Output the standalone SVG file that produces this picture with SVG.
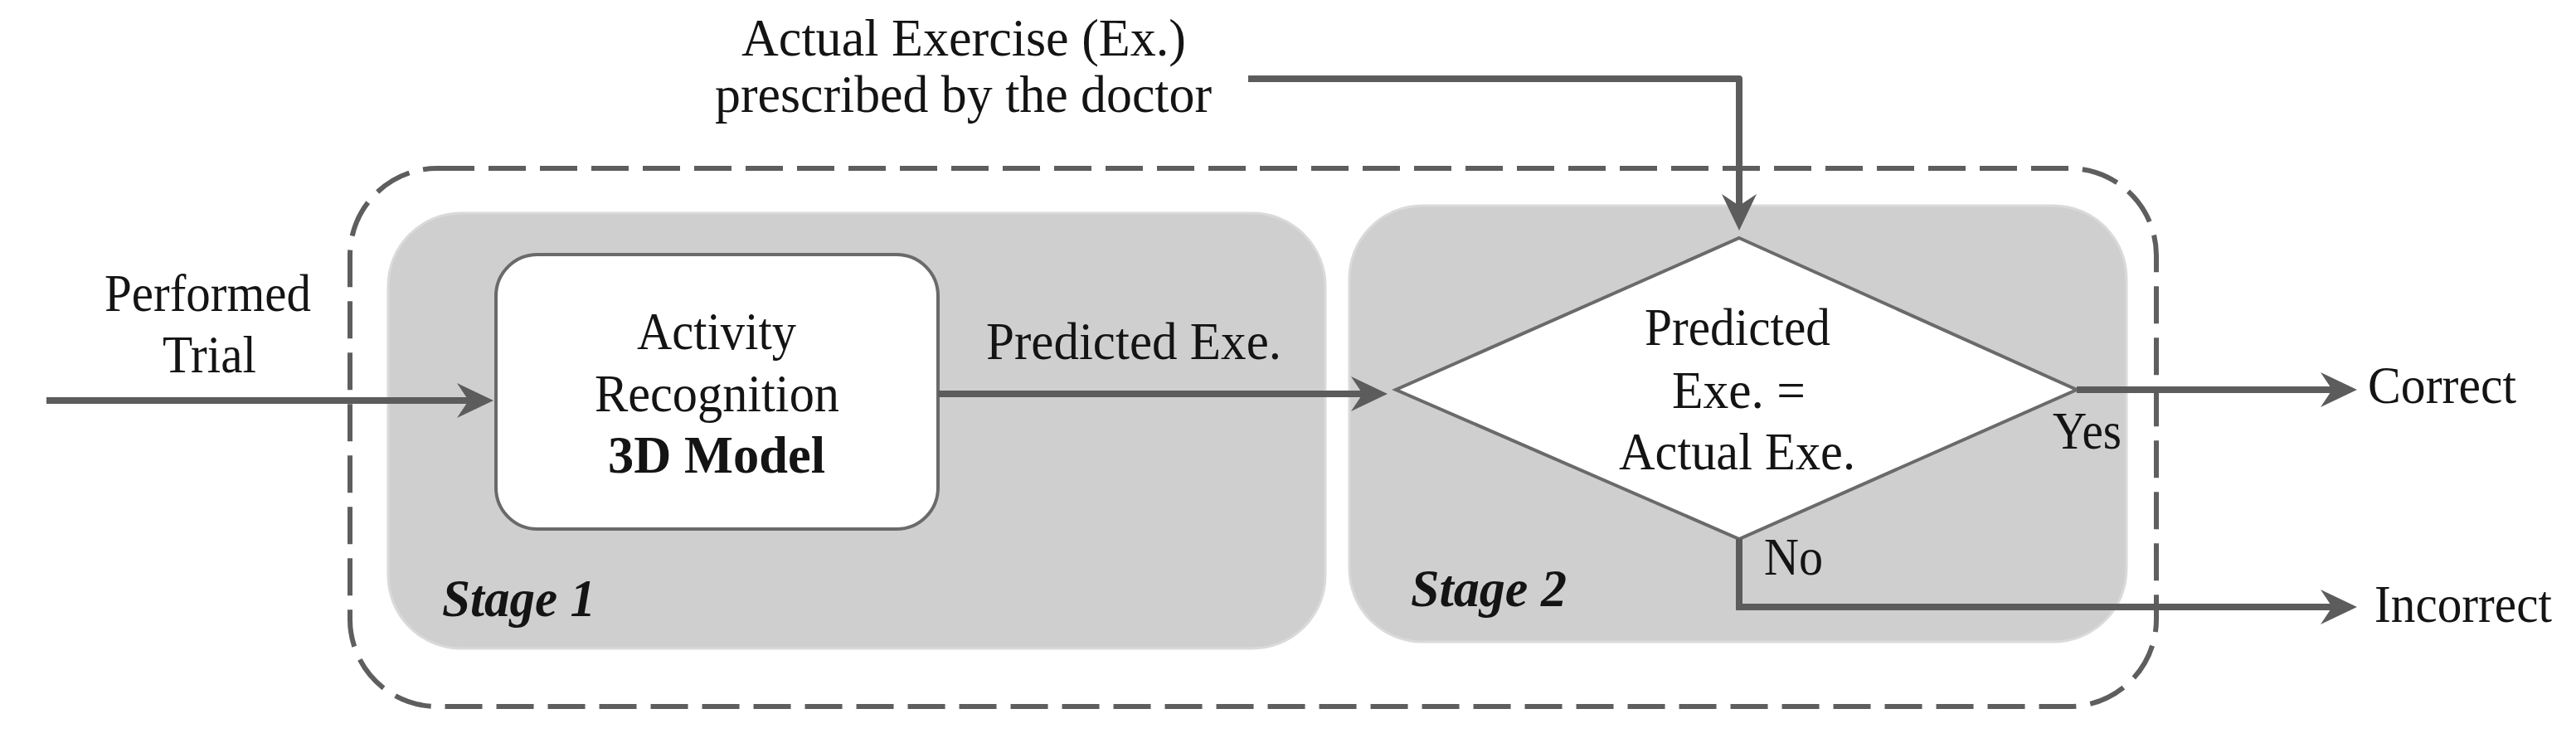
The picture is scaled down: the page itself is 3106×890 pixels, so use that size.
<svg xmlns="http://www.w3.org/2000/svg" width="3106" height="890" viewBox="0 0 3106 890">
<style>
.t{font-family:"Liberation Serif","Times New Roman",serif;font-size:63px;fill:#141414}
.b{font-weight:bold}
.bi{font-weight:bold;font-style:italic}
.stage{fill:#d0cfd0;stroke:#dadada;stroke-width:3}
.box{fill:#ffffff;stroke:#6a6a6a;stroke-width:4}
.con{fill:none;stroke:#5c5c5c;stroke-width:8}
</style>
<defs>
<marker id="ah" markerUnits="userSpaceOnUse" viewBox="0 0 44 44" refX="14" refY="22" markerWidth="44" markerHeight="44" orient="auto">
<path d="M0,1 L44,22 L0,43 L14,22 Z" fill="#5c5c5c"/>
</marker>
</defs>
<rect id="boundary" x="422" y="203" width="2178" height="649" rx="105" ry="105" fill="none" stroke="#5e5e5e" stroke-width="6" stroke-dasharray="45 17"/>
<g id="stage1">
<rect class="stage" x="468" y="257" width="1130" height="525" rx="88" ry="88"/>
<text class="t bi" x="533" y="743" textLength="185" lengthAdjust="spacingAndGlyphs">Stage 1</text>
</g>
<g id="stage2">
<rect class="stage" x="1627" y="248" width="937" height="526" rx="88" ry="88"/>
<text class="t bi" x="1701" y="731" textLength="188" lengthAdjust="spacingAndGlyphs">Stage 2</text>
</g>
<g id="activity-recognition">
<rect class="box" x="598" y="307" width="533" height="331" rx="50" ry="50"/>
<text class="t" x="768" y="421" textLength="192" lengthAdjust="spacingAndGlyphs">Activity</text>
<text class="t" x="717" y="496" textLength="295" lengthAdjust="spacingAndGlyphs">Recognition</text>
<text class="t b" x="733" y="570" textLength="262" lengthAdjust="spacingAndGlyphs">3D Model</text>
</g>
<g id="decision">
<polygon class="box" points="2097,287 2504,470 2097,650 1683,470"/>
<text class="t" x="1983" y="416" textLength="224" lengthAdjust="spacingAndGlyphs">Predicted</text>
<text class="t" x="2016" y="492" textLength="161" lengthAdjust="spacingAndGlyphs">Exe. =</text>
<text class="t" x="1952" y="566" textLength="285" lengthAdjust="spacingAndGlyphs">Actual Exe.</text>
</g>
<g id="input-trial">
<text class="t" x="126" y="375" textLength="249" lengthAdjust="spacingAndGlyphs">Performed</text>
<text class="t" x="196" y="449" textLength="113" lengthAdjust="spacingAndGlyphs">Trial</text>
</g>
<g id="input-actual">
<text class="t" x="894" y="67" textLength="536" lengthAdjust="spacingAndGlyphs">Actual Exercise  (Ex.)</text>
<text class="t" x="862" y="135" textLength="599" lengthAdjust="spacingAndGlyphs">prescribed  by the doctor</text>
</g>
<g id="out-correct">
<text class="t" x="2855" y="486" textLength="179" lengthAdjust="spacingAndGlyphs">Correct</text>
</g>
<g id="out-incorrect">
<text class="t" x="2863" y="750" textLength="214" lengthAdjust="spacingAndGlyphs">Incorrect</text>
</g>
<g id="connectors">
<path class="con" d="M56,483 H565" marker-end="url(#ah)"/>
<path class="con" d="M1131,475 H1643" marker-end="url(#ah)"/>
<path class="con" d="M1505,95 H2097 V248" stroke-linejoin="round" marker-end="url(#ah)"/>
<path class="con" d="M2504,470 H2812" marker-end="url(#ah)"/>
<path class="con" d="M2097,650 V732 H2812" marker-end="url(#ah)"/>
<text class="t" x="1189" y="433" textLength="356" lengthAdjust="spacingAndGlyphs">Predicted  Exe.</text>
<text class="t" x="2475" y="541" textLength="83" lengthAdjust="spacingAndGlyphs">Yes</text>
<text class="t" x="2127" y="693" textLength="71" lengthAdjust="spacingAndGlyphs">No</text>
</g>
</svg>
